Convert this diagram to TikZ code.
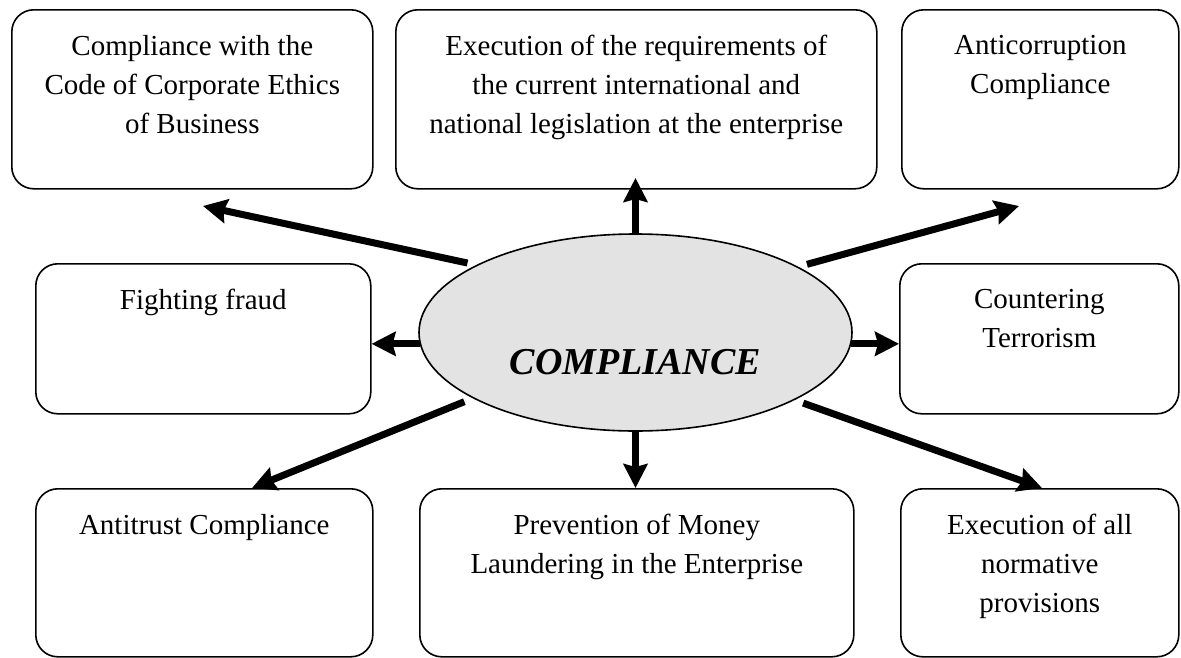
\documentclass[tikz,border=0pt]{standalone}
\usepackage{fontspec}
\setmainfont{Liberation Serif}
\usetikzlibrary{arrows.meta,shapes.geometric,positioning,calc}
\definecolor{ellfill}{HTML}{E3E3E3}
\begin{document}
\begin{tikzpicture}[x=1pt,y=-1pt,
  box/.style={draw, line width=1.6pt, rounded corners=22pt, anchor=north west, inner sep=0pt},
  txt/.style={font=\fontsize{29}{39}\selectfont, align=center, inner sep=0pt},
  arr/.style={line width=7pt, -{Stealth[length=24pt,width=24pt,inset=3pt]}},
]
\useasboundingbox (0,0) rectangle (1181,657);
% boxes
\node[box, minimum width=361pt, minimum height=179pt] (b1) at (11,9) {};
\node[box, minimum width=481pt, minimum height=179pt] (b2) at (395,9) {};
\node[box, minimum width=277pt, minimum height=179pt] (b3) at (901,9) {};
\node[box, minimum width=335pt, minimum height=150pt] (b4) at (35,263) {};
\node[box, minimum width=279pt, minimum height=150pt] (b5) at (899,263) {};
\node[box, minimum width=337pt, minimum height=168pt] (b6) at (35,488) {};
\node[box, minimum width=434pt, minimum height=168pt] (b7) at (419,488) {};
\node[box, minimum width=278pt, minimum height=168pt] (b8) at (900,488) {};
% texts
\node[txt, below=26pt of b1.north] {Compliance with the\\Code of Corporate Ethics\\of Business};
\node[txt, below=26pt of b2.north] {Execution of the requirements of\\the current international and\\national legislation at the enterprise};
\node[txt, below=26pt of b3.north] {Anticorruption\\Compliance};
\node[txt, below=26pt of b4.north] {Fighting fraud};
\node[txt, below=26pt of b5.north] {Countering\\Terrorism};
\node[txt, below=26pt of b6.north] {Antitrust Compliance};
\node[txt, below=26pt of b7.north] {Prevention of Money\\Laundering in the Enterprise};
\node[txt, below=26pt of b8.north] {Execution of all\\normative\\provisions};
% central ellipse
\node[ellipse, draw, line width=1.6pt, fill=ellfill, minimum width=433pt, minimum height=197pt, inner sep=0pt] (el) at (635.5,332.5) {};
\node[font=\fontsize{38}{44}\selectfont\bfseries\itshape, anchor=base, inner sep=0pt] (lab) at ([yshift=-42pt]el.center) {COMPLIANCE};
% free arrow ends
\coordinate (t1) at (203,206);
\coordinate (t2) at (635.5,178);
\coordinate (t3) at (1019,206);
\coordinate (t6) at (252,488);
\coordinate (t8) at (1042,488);
% arrows
\draw[arr, shorten <=9pt] (el.157.6) -- (t1);
\draw[arr] (el.north) -- (t2);
\draw[arr, shorten <=9pt] (el.22.4) -- (t3);
\draw[arr] (el.183.9) -- (el.183.9 -| b4.east);
\draw[arr] (el.-3.9) -- (el.-3.9 -| b5.west);
\draw[arr, shorten <=9pt] (el.202.4) -- (t6);
\draw[arr] (el.south) -- (el.south |- b7.north);
\draw[arr, shorten <=9pt] (el.337.6) -- (t8);
\end{tikzpicture}
\end{document}
